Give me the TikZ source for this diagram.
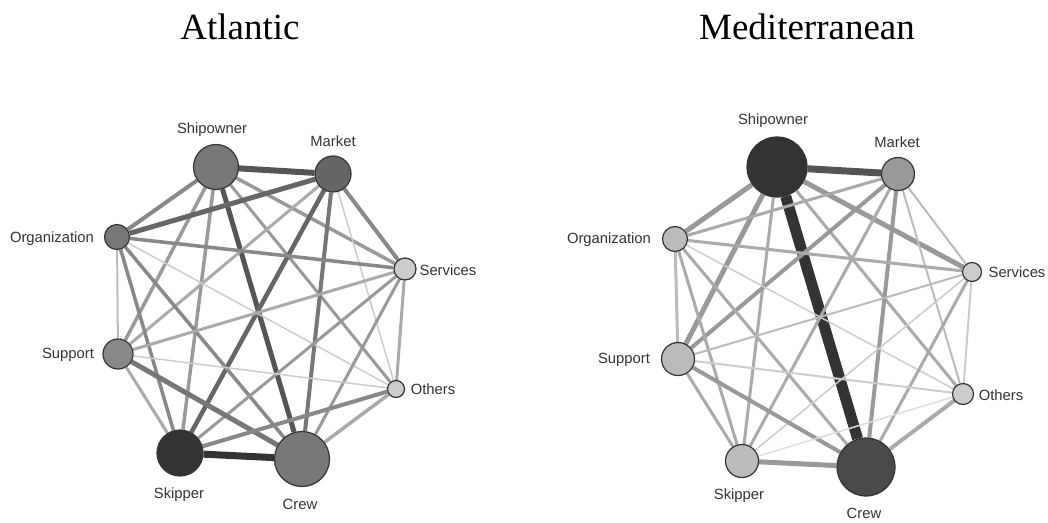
\documentclass[tikz,border=0pt]{standalone}
\usepackage{fontspec}
\setmainfont{Liberation Serif}
\newfontfamily\labelfont{Liberation Sans}
\pgfdeclarelayer{paper}
\pgfdeclarelayer{edges}
\pgfsetlayers{paper,edges,main}

% grey shades used for vertices and ties
\definecolor{g33}{HTML}{333333}
\definecolor{g4a}{HTML}{4A4A4A}
\definecolor{g55}{HTML}{555555}
\definecolor{g66}{HTML}{666666}
\definecolor{g77}{HTML}{777777}
\definecolor{g88}{HTML}{888888}
\definecolor{g99}{HTML}{999999}
\definecolor{gaa}{HTML}{AAAAAA}
\definecolor{gbb}{HTML}{BBBBBB}
\definecolor{gcc}{HTML}{CCCCCC}
\definecolor{gdd}{HTML}{DDDDDD}

\tikzset{
  actor/.style 2 args={circle, draw=g33, line width=1.2pt, fill=#2,
    minimum size=#1pt, inner sep=0pt},
  actorname/.style={font=\labelfont\fontsize{14.8}{17}\selectfont, text=g33, inner sep=0pt},
  title/.style={font=\fontsize{37}{40}\selectfont, inner sep=0pt},
  tie/.style 2 args={line width=#1pt, draw=#2},
}

\begin{document}
\begin{tikzpicture}[x=1pt, y=-1pt]
\useasboundingbox (0,0) rectangle (1048,522);
\begin{pgfonlayer}{paper}
  \fill[white] (0,0) rectangle (1048,522);
\end{pgfonlayer}

% ---------------- Atlantic ----------------
\node[title] (tA) at (240,27) {Atlantic};

\node[actor={45}{g77}] (aSh) at (216,167) {};
\node[actor={36}{g66}] (aMa) at (333,174) {};
\node[actor={25}{g77}] (aOr) at (117,237) {};
\node[actor={22}{gcc}] (aSe) at (405,269) {};
\node[actor={30}{g88}] (aSu) at (118,354) {};
\node[actor={46}{g33}] (aSk) at (180,453) {};
\node[actor={55}{g77}] (aCr) at (302,459) {};
\node[actor={17}{gcc}] (aOt) at (396,389) {};

\node[actorname] (laSh) at (212,130) {Shipowner};
\node[actorname] (laMa) at (333,141) {Market};
\node[actorname] (laOr) at (52,239) {Organization};
\node[actorname] (laSe) at (448,270) {Services};
\node[actorname] (laSu) at (68,355) {Support};
\node[actorname] (laSk) at (179,495) {Skipper};
\node[actorname] (laCr) at (300,504) {Crew};
\node[actorname] (laOt) at (433,389) {Others};

\begin{pgfonlayer}{edges}
  \draw[tie={6}{g55}]   (aSh) -- (aMa);
  \draw[tie={4}{g88}]   (aSh) -- (aOr);
  \draw[tie={3.5}{g99}] (aSh) -- (aSe);
  \draw[tie={3.5}{g99}] (aSh) -- (aSu);
  \draw[tie={3.5}{g99}] (aSh) -- (aSk);
  \draw[tie={5}{g55}]   (aSh) -- (aCr);
  \draw[tie={3}{g99}]   (aSh) -- (aOt);
  \draw[tie={5}{g66}]   (aMa) -- (aOr);
  \draw[tie={4}{g88}]   (aMa) -- (aSe);
  \draw[tie={3}{gaa}]   (aMa) -- (aSu);
  \draw[tie={4.5}{g66}] (aMa) -- (aSk);
  \draw[tie={4}{g77}]   (aMa) -- (aCr);
  \draw[tie={1.5}{gcc}] (aMa) -- (aOt);
  \draw[tie={3.5}{g88}] (aOr) -- (aSe);
  \draw[tie={2}{gbb}]   (aOr) -- (aSu);
  \draw[tie={3.5}{g88}] (aOr) -- (aSk);
  \draw[tie={3.5}{g88}] (aOr) -- (aCr);
  \draw[tie={1.5}{gcc}] (aOr) -- (aOt);
  \draw[tie={3}{gaa}]   (aSe) -- (aSu);
  \draw[tie={3}{g99}]   (aSe) -- (aSk);
  \draw[tie={3}{g99}]   (aSe) -- (aCr);
  \draw[tie={3}{gaa}]   (aSe) -- (aOt);
  \draw[tie={3}{gaa}]   (aSu) -- (aSk);
  \draw[tie={5}{g77}]   (aSu) -- (aCr);
  \draw[tie={1.5}{gcc}] (aSu) -- (aOt);
  \draw[tie={7}{g33}]   (aSk) -- (aCr);
  \draw[tie={4}{g88}]   (aSk) -- (aOt);
  \draw[tie={3.5}{gaa}] (aCr) -- (aOt);
\end{pgfonlayer}

% ---------------- Mediterranean ----------------
\node[title] (tM) at (807,27) {Mediterranean};

\node[actor={60}{g33}] (mSh) at (777,167) {};
\node[actor={33}{g99}] (mMa) at (898,174) {};
\node[actor={25}{gbb}] (mOr) at (675,239) {};
\node[actor={19}{gcc}] (mSe) at (972,272) {};
\node[actor={33}{gbb}] (mSu) at (678,359) {};
\node[actor={33}{gbb}] (mSk) at (742,461) {};
\node[actor={58}{g4a}] (mCr) at (866,467) {};
\node[actor={21}{gcc}] (mOt) at (963,394) {};

\node[actorname] (lmSh) at (773,121) {Shipowner};
\node[actorname] (lmMa) at (897,142) {Market};
\node[actorname] (lmOr) at (609,240) {Organization};
\node[actorname] (lmSe) at (1017,272) {Services};
\node[actorname] (lmSu) at (624,360) {Support};
\node[actorname] (lmSk) at (739,496) {Skipper};
\node[actorname] (lmCr) at (864,513) {Crew};
\node[actorname] (lmOt) at (1001,395) {Others};

\begin{pgfonlayer}{edges}
  \draw[tie={7}{g55}]   (mSh) -- (mMa);
  \draw[tie={5}{g99}]   (mSh) -- (mOr);
  \draw[tie={5}{g99}]   (mSh) -- (mSe);
  \draw[tie={5}{g99}]   (mSh) -- (mSu);
  \draw[tie={3}{gaa}]   (mSh) -- (mSk);
  \draw[tie={11}{g33}]  (mSh) -- (mCr);
  \draw[tie={3}{gaa}]   (mSh) -- (mOt);
  \draw[tie={3}{gaa}]   (mMa) -- (mOr);
  \draw[tie={2}{gbb}]   (mMa) -- (mSe);
  \draw[tie={4}{g99}]   (mMa) -- (mSu);
  \draw[tie={3}{gaa}]   (mMa) -- (mSk);
  \draw[tie={4}{g99}]   (mMa) -- (mCr);
  \draw[tie={2}{gbb}]   (mMa) -- (mOt);
  \draw[tie={3}{gaa}]   (mOr) -- (mSe);
  \draw[tie={3}{gbb}]   (mOr) -- (mSu);
  \draw[tie={3}{gaa}]   (mOr) -- (mSk);
  \draw[tie={3}{gaa}]   (mOr) -- (mCr);
  \draw[tie={1.5}{gcc}] (mOr) -- (mOt);
  \draw[tie={2}{gbb}]   (mSe) -- (mSu);
  \draw[tie={1.5}{gcc}] (mSe) -- (mSk);
  \draw[tie={3}{gaa}]   (mSe) -- (mCr);
  \draw[tie={2}{gcc}]   (mSe) -- (mOt);
  \draw[tie={3}{gaa}]   (mSu) -- (mSk);
  \draw[tie={4}{g99}]   (mSu) -- (mCr);
  \draw[tie={2}{gcc}]   (mSu) -- (mOt);
  \draw[tie={5}{g99}]   (mSk) -- (mCr);
  \draw[tie={1.5}{gdd}] (mSk) -- (mOt);
  \draw[tie={4}{gaa}]   (mCr) -- (mOt);
\end{pgfonlayer}
\end{tikzpicture}
\end{document}
